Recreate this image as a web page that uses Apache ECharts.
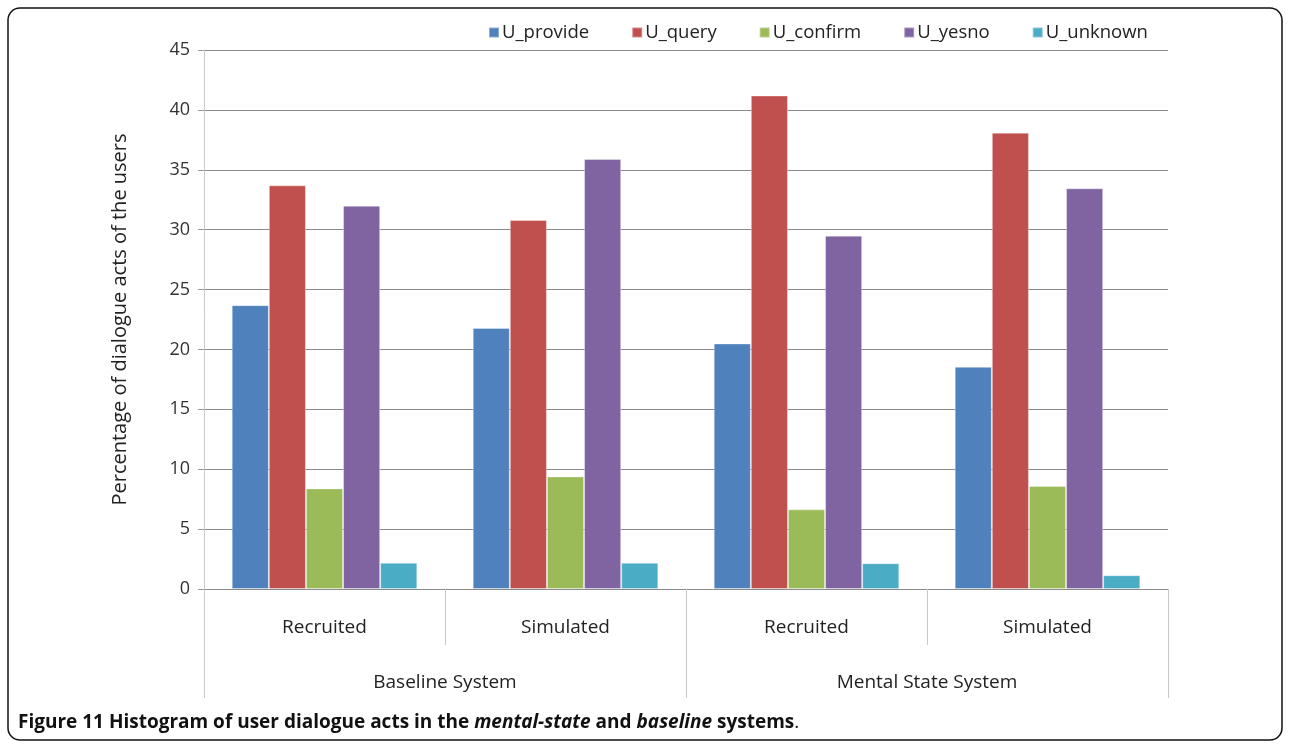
<!DOCTYPE html>
<html>
<head>
<meta charset="utf-8">
<script src="https://cdn.jsdelivr.net/npm/echarts@6/dist/echarts.min.js"></script>
<style>
  html, body { margin: 0; padding: 0; background: #fff; }
  #chart { width: 1290px; height: 748px; }
</style>
</head>
<body>
<div id="chart"></div>
<script>
// Sub-groups (inner axis) and systems (outer axis)
const userGroups = ['Recruited', 'Simulated', 'Recruited', 'Simulated'];
const systems = ['Baseline System', 'Mental State System'];
const seriesNames = ['U_provide', 'U_query', 'U_confirm', 'U_yesno', 'U_unknown'];

// Percentage of each dialogue act, per group (Baseline Rec., Baseline Sim., Mental Rec., Mental Sim.)
const uProvide = [23.7, 21.8, 20.5, 18.55];
const uQuery   = [33.7, 30.8, 41.2, 38.1];
const uConfirm = [8.4, 9.4, 6.65, 8.6];
const uYesno   = [32.0, 35.9, 29.5, 33.45];
const uUnknown = [2.2, 2.2, 2.15, 1.15];

const yTicks = { min: 0, max: 45, interval: 5 };
const colors = ['#4F81BD', '#C0504D', '#9BBB59', '#8064A2', '#4BACC6'];
const values = [uProvide, uQuery, uConfirm, uYesno, uUnknown];

const FONT = '"Open Sans", "Noto Sans", sans-serif';

const chart = echarts.init(document.getElementById('chart'), null, { renderer: 'canvas' });

chart.setOption({
  animation: false,
  color: colors,
  textStyle: { fontFamily: FONT },
  legend: {
    top: 18,
    left: 483,
    icon: 'rect',
    itemWidth: 10,
    itemHeight: 10,
    itemGap: 42,
    textStyle: { fontFamily: FONT, fontSize: 18.5, color: '#222', padding: [0, 0, 0, -2] },
    data: seriesNames
  },
  grid: { left: 204, right: 122, top: 50, bottom: 159, containLabel: false },
  xAxis: [
    {
      type: 'category',
      data: userGroups,
      position: 'bottom',
      axisLine: { show: true, lineStyle: { color: '#8a8a8a', width: 1 } },
      axisTick: { show: true, length: 56, interval: 0, lineStyle: { color: '#c8c8c8' } },
      axisLabel: { interval: 0, margin: 29, fontSize: 19, color: '#222', fontFamily: FONT },
      splitLine: { show: false }
    },
    {
      type: 'category',
      data: systems,
      position: 'bottom',
      offset: 56,
      axisLine: { show: false },
      axisTick: { show: true, length: 53, interval: 0, lineStyle: { color: '#c8c8c8' } },
      axisLabel: { interval: 0, margin: 28, fontSize: 19, color: '#222', fontFamily: FONT },
      splitLine: { show: false }
    }
  ],
  yAxis: {
    type: 'value',
    min: yTicks.min,
    max: yTicks.max,
    interval: yTicks.interval,
    name: 'Percentage of dialogue acts of the users',
    nameLocation: 'middle',
    nameGap: 74,
    nameRotate: 90,
    nameTextStyle: { fontSize: 20, color: '#222', fontFamily: FONT, padding: [0, 0, 0, 0] },
    axisLine: { show: true, lineStyle: { color: '#c8c8c8' } },
    axisTick: { show: true, length: 6, lineStyle: { color: '#999' } },
    axisLabel: { fontSize: 18, color: '#333', margin: 14, fontFamily: FONT },
    splitLine: { show: true, lineStyle: { color: '#8a8a8a', width: 1 } }
  },
  series: seriesNames.map((name, i) => ({
    name,
    type: 'bar',
    xAxisIndex: 0,
    data: values[i],
    barGap: '0%',
    barCategoryGap: '23%',
    itemStyle: { color: colors[i], borderColor: 'rgba(255,255,255,0.35)', borderWidth: 1 }
  })),
  graphic: [
    {
      type: 'rect',
      shape: { x: 8, y: 8, width: 1274, height: 732, r: 12 },
      style: { fill: 'none', stroke: '#111', lineWidth: 1.5 },
      silent: true
    },
    {
      type: 'text',
      left: 18,
      top: 713,
      style: {
        text: '{b|Figure 11 Histogram of user dialogue acts in the }{bi|mental-state}{b| and }{bi|baseline}{b| systems}{n|.}',
        rich: {
          b: { fontFamily: FONT, fontWeight: 'bold', fontSize: 19, fill: '#111' },
          bi: { fontFamily: FONT, fontWeight: 'bold', fontStyle: 'italic', fontSize: 19, fill: '#111' },
          n: { fontFamily: FONT, fontSize: 19, fill: '#111' }
        }
      }
    }
  ]
});
</script>
</body>
</html>
